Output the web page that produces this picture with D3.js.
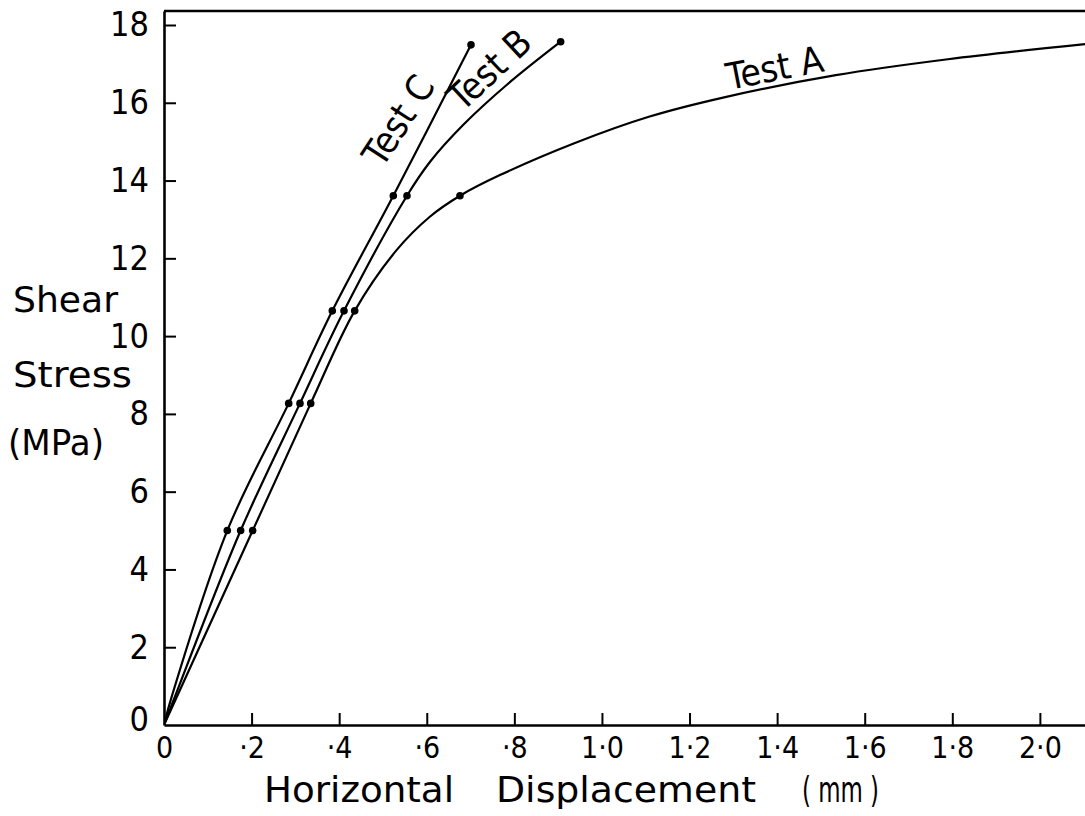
<!DOCTYPE html>
<html>
<head>
<meta charset="utf-8">
<script src="https://cdn.jsdelivr.net/npm/d3@7"></script>
<style>
body	{ margin:0; background:#fff; }
svg	{ display:block; }
.num	{ font-family:"DejaVu Sans Condensed","DejaVu Sans",sans-serif; font-stretch:condensed; fill:#000; }
.ttl	{ font-family:"DejaVu Sans",sans-serif; fill:#000; }
</style>
</head>
<body>
<svg id="chart" width="1085" height="816"></svg>
<script>
// shear stress (MPa) against horizontal displacement (mm)
var xTicks	= [0, 0.2, 0.4, 0.6, 0.8, 1.0, 1.2, 1.4, 1.6, 1.8, 2.0];
var yTicks	= [0, 2, 4, 6, 8, 10, 12, 14, 16, 18];

var testA_curve	= [[0,0],[0.2025,5.0],[0.335,8.27],[0.4354,10.65],[0.531,12.21],[0.607,13.07],[0.6758,13.61],
		   [0.767,14.14],[0.937,14.96],[1.107,15.64],[1.279,16.14],[1.534,16.71],[1.79,17.12],[2.103,17.51]];
var testB_curve	= [[0,0],[0.025,0.73],[0.175,5.0],[0.3105,8.27],[0.411,10.65],[0.5548,13.61],[0.608,14.49],[0.684,15.44],
		   [0.7836,16.47],[0.9057,17.57]];
var testC_curve	= [[0,0],[0.0176,0.73],[0.1445,5.0],[0.2847,8.27],[0.3843,10.65],[0.5236,13.61],[0.701,17.49]];

var testA_dots	= [[0.2025,5.0],[0.335,8.27],[0.4354,10.65],[0.6758,13.61]];
var testB_dots	= [[0.175,5.0],[0.3105,8.27],[0.411,10.65],[0.5548,13.61],[0.9057,17.57]];
var testC_dots	= [[0.1445,5.0],[0.2847,8.27],[0.3843,10.65],[0.5236,13.61],[0.701,17.49]];

var testNames	= ["Test A", "Test B", "Test C"];
var yTitle	= ["Shear", "Stress", "(MPa)"];
var xTitle	= ["Horizontal", "Displacement", "( mm )"];

var svg	= d3.select('#chart');
var x	= d3.scaleLinear().domain([0, 2.103]).range([164, 1085]);
var y	= d3.scaleLinear().domain([0, 18.36]).range([725, 11]);

var fmtX = function(d) {
	if (d==0) return "0";
	var s = d3.format(".1f")(d);
	return (d<1 ? s.slice(1) : s).replace(".", "\u00b7");
};

svg.append('defs').append('clipPath').attr('id','plot')
	.append('rect').attr('x', x(0)).attr('y', y(18.36)).attr('width', x(2.103)-x(0)).attr('height', y(0)-y(18.36));

// axes, ticks point inward
var gx = svg.append('g').attr('transform','translate(0,'+y(0)+')')
	.call(d3.axisBottom(x).tickValues(xTicks).tickSize(-12).tickSizeOuter(0).tickPadding(12).tickFormat(fmtX));
var gy = svg.append('g').attr('transform','translate('+x(0)+',0)')
	.call(d3.axisLeft(y).tickValues(yTicks).tickSize(-12).tickSizeOuter(0).tickPadding(15));
gx.select('.domain').attr('stroke-width', 2.6);
gy.select('.domain').attr('stroke-width', 2.6);
gx.selectAll('.tick line').attr('stroke-width', 2);
gy.selectAll('.tick line').attr('stroke-width', 2);
gx.selectAll('.tick text').attr('class','num').attr('font-size', 30);
gy.selectAll('.tick text').attr('class','num').attr('font-size', 34);
gy.selectAll('.tick').filter(function(d){return d==0}).select('line').remove();
gy.selectAll('.tick').filter(function(d){return d==0}).select('text').attr('dy','0.15em');
gx.selectAll('.tick').filter(function(d){return d==0}).select('line').remove();

// frame top
svg.append('line').attr('x1', x(0)).attr('x2', x(2.103)).attr('y1', y(18.36)).attr('y2', y(18.36))
	.attr('stroke','#000').attr('stroke-width', 2.6);

var line = d3.line().x(function(d){return x(d[0])}).y(function(d){return y(d[1])}).curve(d3.curveCatmullRom.alpha(0.5));
var plot = svg.append('g').attr('clip-path','url(#plot)');
[testA_curve, testB_curve, testC_curve].forEach(function(c) {
	plot.append('path').datum(c).attr('d', line).attr('fill','none').attr('stroke','#000').attr('stroke-width', 2.2);
});
[testA_dots, testB_dots, testC_dots].forEach(function(ds) {
	svg.append('g').selectAll('circle').data(ds).enter().append('circle')
		.attr('cx', function(d){return x(d[0])}).attr('cy', function(d){return y(d[1])}).attr('r', 3.8).attr('fill','#000');
});

// curve labels, written along each curve
var labelAt = [[1.29, 16.33, -11], [0.681, 15.75, -43], [0.4985, 14.3, -57]];
testNames.forEach(function(t, i) {
	var p = labelAt[i];
	svg.append('text').attr('class','num').attr('font-size', 37)
		.attr('transform','translate('+x(p[0])+','+y(p[1])+') rotate('+p[2]+')').text(t);
});

// axis titles
var yPos = [[13, 312, 105], [13, 387, 119], [8, 455, 96]];
yTitle.forEach(function(t, i) {
	svg.append('text').attr('class','ttl').attr('font-size', 36)
		.attr('x', yPos[i][0]).attr('y', yPos[i][1]).attr('textLength', yPos[i][2]).attr('lengthAdjust','spacingAndGlyphs').text(t);
});
var xPos = [[264, 190], [496, 260], [802, 77]];
xTitle.forEach(function(t, i) {
	svg.append('text').attr('class','ttl').attr('font-size', 36).attr('xml:space','preserve')
		.attr('x', xPos[i][0]).attr('y', 802).attr('textLength', xPos[i][1]).attr('lengthAdjust','spacingAndGlyphs').text(t);
});
</script>
</body>
</html>
